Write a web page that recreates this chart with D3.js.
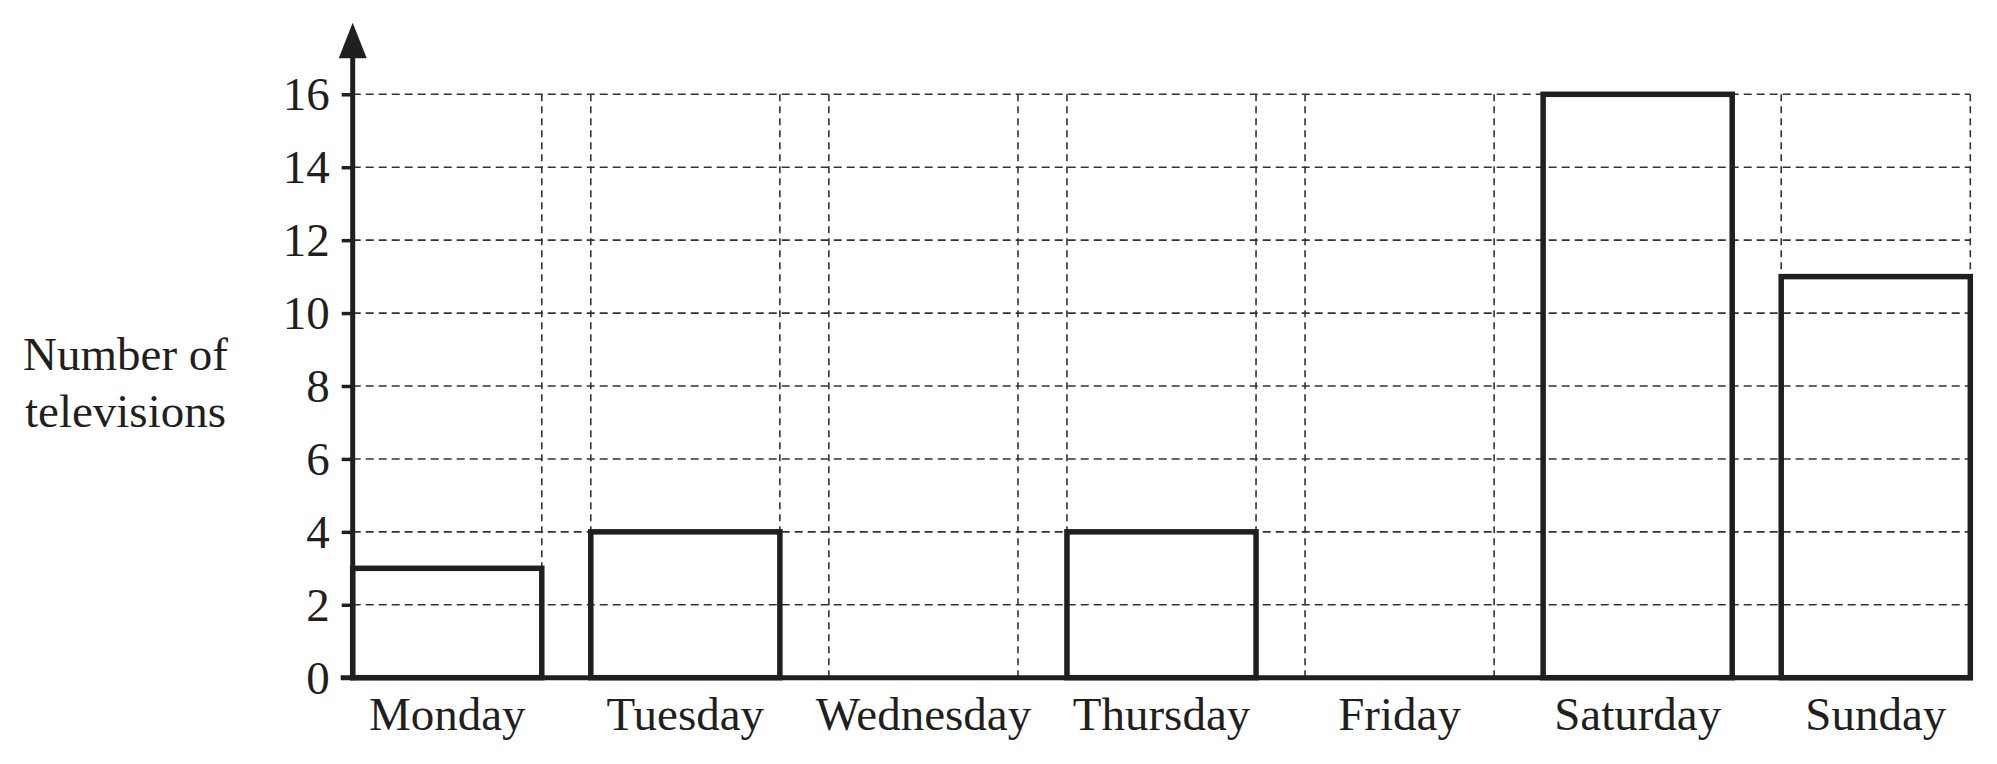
<!DOCTYPE html>
<html>
<head>
<meta charset="utf-8">
<script src="https://cdn.jsdelivr.net/npm/d3@7"></script>
<style>
  html, body { margin: 0; padding: 0; background: #ffffff; }
  svg { display: block; }
  text { font-family: "Liberation Serif", "Times New Roman", serif; fill: #1f1f1f; }
</style>
</head>
<body>
<svg id="chart" width="1997" height="764"></svg>
<script>
// ---- data ----
const categories = ["Monday", "Tuesday", "Wednesday", "Thursday", "Friday", "Saturday", "Sunday"];
const values = [3, 4, 0, 4, 0, 16, 11];
const yTicks = [0, 2, 4, 6, 8, 10, 12, 14, 16];
const yLabelLines = ["Number of", "televisions"];

// ---- layout ----
const W = 1997, H = 764;
const x0 = 352.7, x1 = 1970.3;
const yBottom = 677.7, yTop = 94.3;
const ink = "#1f1f1f";
const fontSize = 47;

const svg = d3.select("#chart");

const x = d3.scaleBand()
  .domain(categories)
  .range([x0, x1])
  .paddingInner(0.2058)
  .paddingOuter(0)
  .align(0);

const y = d3.scaleLinear().domain([0, 16]).range([yBottom, yTop]);

// ---- grid ----
const grid = svg.append("g").attr("class", "grid");
grid.selectAll("line.h")
  .data(yTicks.filter(d => d > 0))
  .join("line")
  .attr("class", "h")
  .attr("x1", x0).attr("x2", x1)
  .attr("y1", d => y(d)).attr("y2", d => y(d))
  .attr("stroke", "#333")
  .attr("stroke-width", 1.6)
  .attr("stroke-dasharray", "8,5");

const edges = [];
categories.forEach(c => { edges.push(x(c)); edges.push(x(c) + x.bandwidth()); });
grid.selectAll("line.v")
  .data(edges.filter(e => Math.abs(e - x0) > 1))
  .join("line")
  .attr("class", "v")
  .attr("x1", d => d).attr("x2", d => d)
  .attr("y1", y(16)).attr("y2", y(0))
  .attr("stroke", "#333")
  .attr("stroke-width", 1.6)
  .attr("stroke-dasharray", "7,5");

// ---- bars ----
const data = categories.map((c, i) => ({ c, v: values[i] }));
svg.append("g").attr("class", "bars")
  .selectAll("rect")
  .data(data.filter(d => d.v > 0))
  .join("rect")
  .attr("x", d => x(d.c))
  .attr("y", d => y(d.v))
  .attr("width", x.bandwidth())
  .attr("height", d => y(0) - y(d.v))
  .attr("fill", "none")
  .attr("stroke", ink)
  .attr("stroke-width", 5.5);

// ---- y axis ----
const yAxis = svg.append("g")
  .attr("transform", `translate(${x0},0)`)
  .call(d3.axisLeft(y).tickValues(yTicks).tickSize(11).tickPadding(12).tickFormat(d3.format("d")));
yAxis.select(".domain").remove();
yAxis.selectAll(".tick line").attr("stroke", ink).attr("stroke-width", 3.5);
yAxis.selectAll(".tick text")
  .attr("font-size", fontSize)
  .attr("font-family", "Liberation Serif, serif")
  .attr("fill", ink)
  .attr("dy", "0.33em");

// axis line with arrow
svg.append("line")
  .attr("x1", x0).attr("x2", x0)
  .attr("y1", yBottom + 2.5).attr("y2", 56)
  .attr("stroke", ink).attr("stroke-width", 5);
svg.append("path")
  .attr("d", `M${x0},22.7 L${x0 + 14},58.3 L${x0 - 14},58.3 Z`)
  .attr("fill", ink);

// ---- x axis ----
const xAxis = svg.append("g")
  .attr("transform", `translate(0,${yBottom})`)
  .call(d3.axisBottom(x).tickSize(0).tickPadding(0));
xAxis.select(".domain").remove();
xAxis.selectAll(".tick text")
  .attr("font-size", fontSize)
  .attr("font-family", "Liberation Serif, serif")
  .attr("fill", ink)
  .attr("dy", null)
  .attr("y", 52.3);

svg.append("line")
  .attr("x1", x0 - 12).attr("x2", x1 + 2.5)
  .attr("y1", yBottom).attr("y2", yBottom)
  .attr("stroke", ink).attr("stroke-width", 5);

// ---- y label ----
const yl = svg.append("text")
  .attr("text-anchor", "middle")
  .attr("font-size", fontSize);
yl.selectAll("tspan")
  .data(yLabelLines)
  .join("tspan")
  .attr("x", 125.5)
  .attr("y", (d, i) => 370 + i * 56.7)
  .text(d => d);
</script>
</body>
</html>
